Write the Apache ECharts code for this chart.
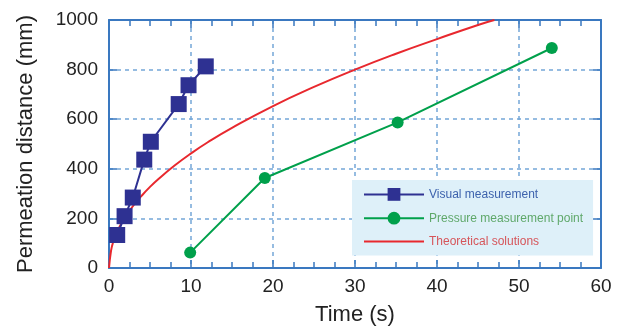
<!DOCTYPE html>
<html>
<head>
<meta charset="utf-8">
<script src="https://cdn.jsdelivr.net/npm/echarts@6/dist/echarts.min.js"></script>
<style>
  html, body { margin: 0; padding: 0; background: #fff; }
  #chart { width: 633px; height: 331px; }
</style>
</head>
<body>
<div id="chart"></div>
<script>
// values: [time (s), distance (mm)]
const visual = [[1.0, 133], [1.9, 209], [2.9, 284], [4.3, 437], [5.1, 509], [8.5, 661], [9.7, 737], [11.8, 813]];
const pressure = [[9.9, 62], [19.0, 363], [35.2, 587], [54.0, 887]];
const theory = [[0, 0], [0.25, 70], [0.5, 104], [1, 146], [1.5, 180], [2, 206], [3, 253], [4, 292], [5, 327],
  [6, 358], [8, 413], [10, 462], [12, 506], [15, 565], [20, 653], [25, 730], [30, 800], [35, 864], [40, 923], [45, 980], [47, 1000]];
const xTicks = [0, 10, 20, 30, 40, 50, 60];
const yTicks = [0, 200, 400, 600, 800, 1000];

const font = 'Liberation Sans, Arial, sans-serif';
const axisBlue = '#3a78c0';
const gridBlue = '#74a6d8';

const myChart = echarts.init(document.getElementById('chart'));

const baseAxis = {
  axisLine: { show: true, onZero: false, lineStyle: { color: axisBlue, width: 2 } },
  axisTick: { show: true, inside: true, length: 8, lineStyle: { color: axisBlue, width: 1.5 } },
  axisLabel: { show: false },
  splitLine: { show: false }
};

myChart.setOption({
  animation: false,
  backgroundColor: '#fff',
  grid: { left: 109, top: 20, width: 492, height: 250 },
  legend: {
    orient: 'vertical',
    left: 352,
    top: 180,
    padding: [8, 10, 8, 11],
    backgroundColor: '#def0f9',
    itemWidth: 60,
    itemHeight: 16,
    itemGap: 11,
    textStyle: { fontFamily: font, fontSize: 12 },
    data: [
      { name: 'Visual measurement', textStyle: { color: '#3d62ad' } },
      { name: 'Pressure measurement point', textStyle: { color: '#5fa86a' } },
      // plain line, no marker
      { name: 'Theoretical solutions', icon: 'path://M0,0H60V2H0Z', textStyle: { color: '#d6555a' } }
    ]
  },
  xAxis: [
    Object.assign({}, baseAxis, {
      type: 'value', min: 0, max: 60, interval: 10, position: 'bottom',
      name: 'Time (s)', nameLocation: 'middle', nameGap: 36,
      nameTextStyle: { fontFamily: font, fontSize: 22, color: '#222' },
      axisLabel: { show: true, margin: 9, fontFamily: font, fontSize: 19, color: '#222',
        formatter: v => xTicks.includes(v) ? String(v) : '' },
      minorTick: { show: true, splitNumber: 4, length: 6, lineStyle: { color: axisBlue, width: 1.5 } },
      splitLine: { show: true, lineStyle: { color: gridBlue, width: 1.5, type: [4, 4] } }
    }),
    Object.assign({}, baseAxis, {
      type: 'value', min: 0, max: 60, interval: 10, position: 'top',
      minorTick: { show: true, splitNumber: 4, length: 6, lineStyle: { color: axisBlue, width: 1.5 } }
    })
  ],
  yAxis: [
    Object.assign({}, baseAxis, {
      type: 'value', min: 0, max: 1000, interval: 200, position: 'left',
      name: 'Permeation distance (mm)', nameLocation: 'middle', nameGap: 72,
      nameTextStyle: { fontFamily: font, fontSize: 22, color: '#222' },
      axisLabel: { show: true, margin: 11, fontFamily: font, fontSize: 19, color: '#222',
        formatter: v => yTicks.includes(v) ? String(v) : '' },
      splitLine: { show: true, lineStyle: { color: gridBlue, width: 1.5, type: [4, 4] } }
    }),
    Object.assign({}, baseAxis, {
      type: 'value', min: 0, max: 1000, interval: 200, position: 'right'
    })
  ],
  series: [
    {
      name: 'Theoretical solutions',
      type: 'line',
      data: theory,
      smooth: true,
      symbol: 'none',
      clip: true,
      itemStyle: { color: '#e8282e' },
      lineStyle: { color: '#e8282e', width: 2 },
      z: 2
    },
    {
      name: 'Pressure measurement point',
      type: 'line',
      data: pressure,
      symbol: 'circle',
      symbolSize: 12,
      itemStyle: { color: '#00a04b' },
      lineStyle: { color: '#00a04b', width: 2 },
      z: 3
    },
    {
      name: 'Visual measurement',
      type: 'line',
      data: visual,
      symbol: 'rect',
      symbolSize: 16,
      itemStyle: { color: '#2e3192' },
      lineStyle: { color: '#2e3192', width: 2 },
      z: 4
    }
  ]
});
</script>
</body>
</html>
